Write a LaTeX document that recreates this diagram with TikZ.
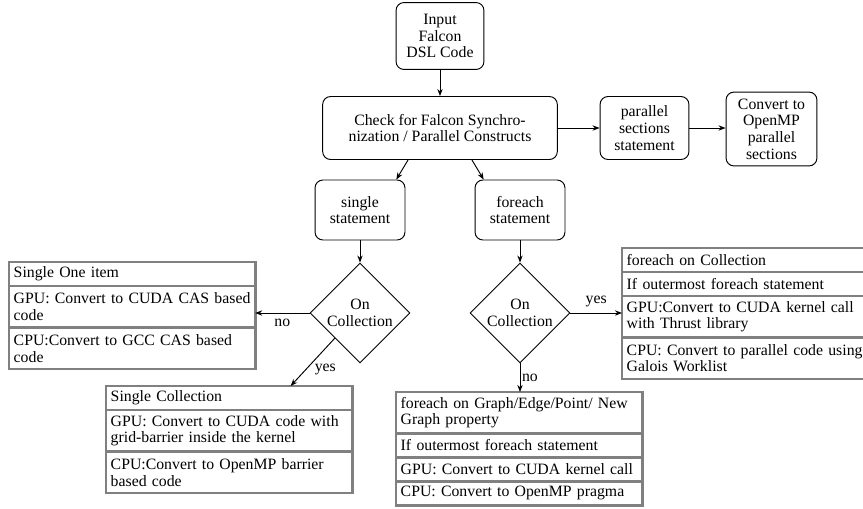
\documentclass[tikz,border=0pt]{standalone}
\usepackage{fontspec}
\setmainfont{Liberation Serif}
\usepackage{xcolor}
\usepackage{tikz}
\usetikzlibrary{positioning,arrows.meta,shapes,shapes.geometric,calc}
\definecolor{rowgray}{RGB}{128,128,128}

\begin{document}
\begin{tikzpicture}[x=0.6337pt,y=-0.6337pt,
    every node/.style={font=\fontsize{10pt}{10.6pt}\selectfont},
    >={Stealth[length=4.5pt,width=3.4pt]},
    flow/.style={->,line width=0.6pt},
    block/.style={draw,line width=0.6pt,rounded corners=5pt,align=center,inner sep=1pt},
    decision/.style={diamond,draw,line width=0.6pt,aspect=1,minimum size=63.3pt,
                     inner sep=0pt,align=center},
    row/.style={draw=rowgray,line width=1.8pt,outer sep=0pt,text width=150pt,
                inner xsep=3pt,inner ysep=2pt,minimum height=15.2pt},
    tallrow/.style={row,minimum height=26.3pt}]
  \clip (0,0) rectangle (863,508);

  % top chain
  \node[block,minimum width=55.7pt,minimum height=42.4pt] (input) at (440,36)
    {Input\\Falcon\\DSL Code};
  \node[block,minimum width=148.7pt,minimum height=39.9pt] (check) at (440,128)
    {Check for Falcon Synchro-\\nization / Parallel Constructs};
  \node[block,minimum width=56.3pt,minimum height=39.9pt] (parsec) at (644.5,128)
    {parallel\\sections\\statement};
  \node[block,minimum width=57.6pt,minimum height=46.8pt] (ompsec) at (771.5,129)
    {Convert to\\OpenMP\\parallel\\sections};
  \node[block,minimum width=57pt,minimum height=38pt] (single) at (360,210)
    {single\\statement};
  \node[block,minimum width=57pt,minimum height=38pt] (foreach) at (520,210)
    {foreach\\statement};
  \node[decision] (oncolA) at (360,313) {On\\Collection};
  \node[decision] (oncolB) at (520,313) {On\\Collection};

  % single statement results
  \node[row,anchor=north west] (one1) at (9,262) {Single One item};
  \node[tallrow,below=0pt of one1] (one2) {GPU: Convert to CUDA CAS based code};
  \node[tallrow,below=0pt of one2] (one3) {CPU:Convert to GCC CAS based code};

  \node[row,anchor=north west] (coll1) at (106,386) {Single Collection};
  \node[tallrow,below=0pt of coll1] (coll2) {GPU: Convert to CUDA code with grid-barrier inside the kernel};
  \node[tallrow,below=0pt of coll2] (coll3) {CPU:Convert to OpenMP barrier based code};

  % foreach statement results
  \node[tallrow,anchor=north west] (fg1) at (396,392) {foreach on Graph/Edge/Point/ New Graph property};
  \node[row,below=0pt of fg1] (fg2) {If outermost foreach statement};
  \node[row,below=0pt of fg2] (fg3) {GPU: Convert to CUDA kernel call};
  \node[row,below=0pt of fg3] (fg4) {CPU: Convert to OpenMP pragma};

  \node[row,anchor=north west] (fc1) at (622,248) {foreach on Collection};
  \node[row,below=0pt of fc1] (fc2) {If outermost foreach statement};
  \node[tallrow,below=0pt of fc2] (fc3) {GPU:Convert to CUDA kernel call with Thrust library};
  \node[tallrow,below=0pt of fc3] (fc4) {CPU: Convert to parallel code using Galois Worklist};

  % connectors
  \draw[flow] (input) -- (check);
  \draw[flow] (check) -- (parsec);
  \draw[flow] (parsec.east) -- (parsec.east -| ompsec.west);
  \draw[flow] (check.225) -- (single.40);
  \draw[flow] (check.315) -- (foreach.140);
  \draw[flow] (single) -- (oncolA);
  \draw[flow] (foreach) -- (oncolB);
  \draw[flow] (oncolA.west) -- node[below] (noA) {no} (oncolA.west -| one2.east);
  \draw[flow] (oncolA.south west) -- node[below right,inner sep=1pt] (yesA) {yes}
    ($(coll1.north east)!0.25!(coll1.north west)$);
  \draw[flow] (oncolB.south) -- node[right,inner sep=1pt] (noB) {no} (oncolB.south |- fg1.north);
  \draw[flow] (oncolB.east) -- node[above] (yesB) {yes} (oncolB.east -| fc3.west);
\end{tikzpicture}
\end{document}
